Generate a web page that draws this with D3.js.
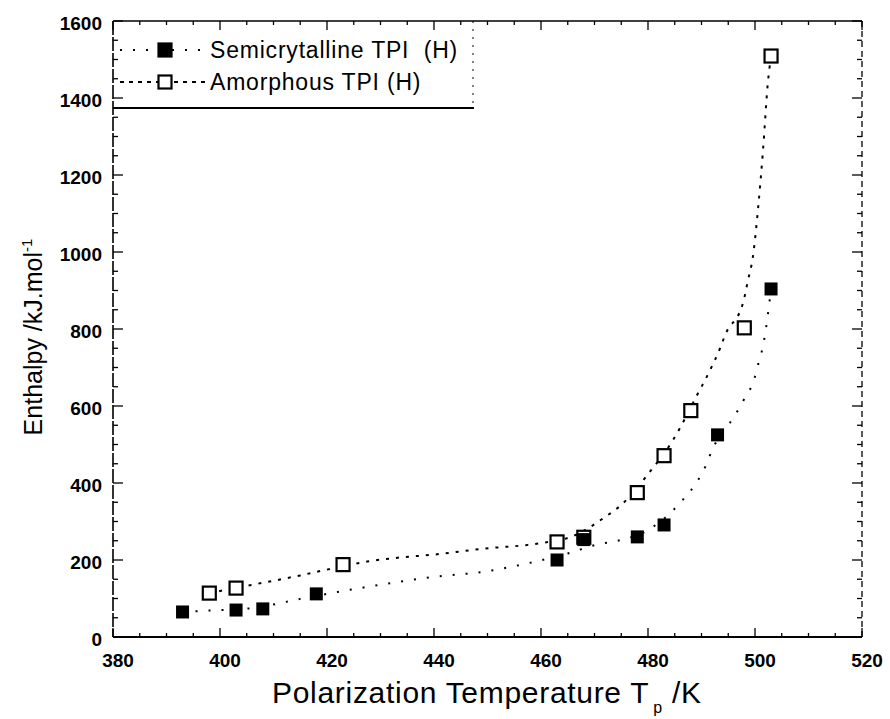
<!DOCTYPE html>
<html>
<head>
<meta charset="utf-8">
<script src="https://cdn.jsdelivr.net/npm/d3@7"></script>
<style>
  body { margin: 0; background: #fff; }
  text { font-family: "Liberation Sans", Arial, sans-serif; fill: #000; }
</style>
</head>
<body>
<div id="chart-area"></div>
<script>
// measured points
const tempSemi = [393, 403, 408, 418, 463, 468, 478, 483, 493, 503];
const enthSemi = [65, 70, 73, 112, 200, 253, 260, 291, 525, 904];
const tempAmor = [398, 403, 423, 463, 468, 478, 483, 488, 498, 503];
const enthAmor = [114, 127, 188, 247, 259, 375, 471, 588, 803, 1509];

// dotted fit curves
const fitSemiT = [393, 397, 400, 406, 415, 422, 440, 450, 455, 465, 471, 474, 480, 486.5, 489, 490.7, 492, 496.3, 498.1, 499.8, 500.7, 501.5, 502, 503];
const fitSemiH = [65, 68, 70, 75, 99, 117, 156, 171, 184, 217, 242, 249, 278, 356, 400, 442, 486, 577, 621, 667, 714, 756, 797, 904];
const fitAmorT = [398, 405, 410, 415, 421, 427.5, 434, 440, 449, 460, 466, 472, 475, 480, 484.7, 489.2, 491.6, 493.5, 494.4, 497.8, 498.7, 499.6, 500.6, 501.5, 502.4, 503];
const fitAmorH = [114, 133, 146, 160, 178, 196, 207, 214, 229, 244, 262, 312, 343, 423, 512, 629, 693, 751, 784, 870, 927, 987, 1117, 1265, 1439, 1509];

const xTicks = [380, 400, 420, 440, 460, 480, 500, 520];
const yTicks = [0, 200, 400, 600, 800, 1000, 1200, 1400, 1600];
const seriesNames = ['Semicrytalline TPI  (H)', 'Amorphous TPI (H)'];

const margin = { left: 113, top: 21, right: 28, bottom: 82 };
const width = 890 - margin.left - margin.right;
const height = 719 - margin.top - margin.bottom;

const svg = d3.select('#chart-area').append('svg')
  .attr('width', 890)
  .attr('height', 719);

const g = svg.append('g')
  .attr('transform', `translate(${margin.left},${margin.top})`);

const x = d3.scaleLinear().domain([380, 520]).range([0, width]);
const y = d3.scaleLinear().domain([0, 1600]).range([height, 0]);

const xMinor = d3.range(380, 521, 5);
const yMinor = d3.range(0, 1601, 50);

// frame
g.append('line').attr('x1', 0).attr('x2', width).attr('y1', height).attr('y2', height)
  .attr('stroke', '#000').attr('stroke-width', 2);
g.append('line').attr('x1', 0).attr('x2', 0).attr('y1', 0).attr('y2', height)
  .attr('stroke', '#000').attr('stroke-width', 1.6).attr('stroke-dasharray', '14,2');
g.append('line').attr('x1', 0).attr('x2', width).attr('y1', 0).attr('y2', 0)
  .attr('stroke', '#000').attr('stroke-width', 1.6);
g.append('line').attr('x1', width).attr('x2', width).attr('y1', 0).attr('y2', height)
  .attr('stroke', '#000').attr('stroke-width', 1.3).attr('stroke-dasharray', '6,4');

// ticks, all four sides pointing in
const tickLen = v => (v % 20 === 0 ? 9 : 4);
const ytickLen = v => (v % 200 === 0 ? 10 : 5);

g.selectAll('.xb').data(xMinor).enter().append('line')
  .attr('x1', d => x(d)).attr('x2', d => x(d))
  .attr('y1', height).attr('y2', d => height - tickLen(d))
  .attr('stroke', '#000').attr('stroke-width', 1.3);
g.selectAll('.xt').data(xMinor).enter().append('line')
  .attr('x1', d => x(d)).attr('x2', d => x(d))
  .attr('y1', 0).attr('y2', d => tickLen(d))
  .attr('stroke', '#000').attr('stroke-width', 1.3);
g.selectAll('.yl').data(yMinor).enter().append('line')
  .attr('y1', d => y(d)).attr('y2', d => y(d))
  .attr('x1', 0).attr('x2', d => ytickLen(d))
  .attr('stroke', '#000').attr('stroke-width', 1.3);
g.selectAll('.yr').data(yMinor).enter().append('line')
  .attr('y1', d => y(d)).attr('y2', d => y(d))
  .attr('x1', width).attr('x2', d => width - ytickLen(d))
  .attr('stroke', '#000').attr('stroke-width', 1.3);

// tick labels
g.selectAll('.xlab').data(xTicks).enter().append('text')
  .attr('x', d => x(d) + 5)
  .attr('y', height + 30)
  .attr('text-anchor', 'middle')
  .attr('font-size', '19px')
  .attr('font-weight', 'bold')
  .text(d => d);

g.selectAll('.ylab').data(yTicks).enter().append('text')
  .attr('x', -11)
  .attr('y', d => y(d) + 9)
  .attr('text-anchor', 'end')
  .attr('font-size', '19px')
  .attr('font-weight', 'bold')
  .text(d => d);

// axis titles
const xt = svg.append('text')
  .attr('x', 272)
  .attr('y', 703)
  .attr('font-size', '30px')
  .attr('letter-spacing', '0.7px');
xt.append('tspan').text('Polarization Temperature T');
xt.append('tspan').attr('dy', 10).attr('dx', 4).attr('font-size', '16px').text('p');
xt.append('tspan').attr('dy', -10).text(' /K');

const yt = svg.append('text')
  .attr('transform', 'translate(42,337) rotate(-90)')
  .attr('text-anchor', 'middle')
  .attr('font-size', '25px');
yt.append('tspan').text('Enthalpy /kJ.mol');
yt.append('tspan').attr('dy', -10).attr('font-size', '15px').text('-1');

// fit curves
const line = d3.line()
  .x(d => x(d[0]))
  .y(d => y(d[1]))
  .curve(d3.curveMonotoneX);

g.append('path')
  .datum(d3.zip(fitAmorT, fitAmorH))
  .attr('d', line)
  .attr('fill', 'none')
  .attr('stroke', '#000')
  .attr('stroke-width', 2)
  .attr('stroke-dasharray', '3,7');

g.append('path')
  .datum(d3.zip(fitSemiT, fitSemiH))
  .attr('d', line)
  .attr('fill', 'none')
  .attr('stroke', '#000')
  .attr('stroke-width', 2)
  .attr('stroke-dasharray', '2,11');

// markers
const sq = 13;
g.selectAll('.amor').data(d3.zip(tempAmor, enthAmor)).enter().append('rect')
  .attr('x', d => x(d[0]) - sq / 2)
  .attr('y', d => y(d[1]) - sq / 2)
  .attr('width', sq).attr('height', sq)
  .attr('fill', '#fff')
  .attr('stroke', '#000')
  .attr('stroke-width', 2.2);

g.selectAll('.semi').data(d3.zip(tempSemi, enthSemi)).enter().append('rect')
  .attr('x', d => x(d[0]) - sq / 2)
  .attr('y', d => y(d[1]) - sq / 2)
  .attr('width', sq).attr('height', sq)
  .attr('fill', '#000');

// legend
const leg = svg.append('g');
leg.append('line').attr('x1', 113).attr('x2', 474).attr('y1', 108).attr('y2', 108)
  .attr('stroke', '#000').attr('stroke-width', 2);
leg.append('line').attr('x1', 473).attr('x2', 473).attr('y1', 21).attr('y2', 108)
  .attr('stroke', '#000').attr('stroke-width', 1).attr('stroke-dasharray', '2,6');

const rows = [
  { name: seriesNames[0], y: 50, fill: '#000', dash: '2,11' },
  { name: seriesNames[1], y: 82, fill: '#fff', dash: '4,5' }
];
rows.forEach(r => {
  leg.append('line').attr('x1', 120).attr('x2', 205).attr('y1', r.y).attr('y2', r.y)
    .attr('stroke', '#000').attr('stroke-width', 2).attr('stroke-dasharray', r.dash);
  leg.append('rect')
    .attr('x', 165 - sq / 2).attr('y', r.y - sq / 2)
    .attr('width', sq).attr('height', sq)
    .attr('fill', r.fill)
    .attr('stroke', '#000').attr('stroke-width', 2.2);
  leg.append('text')
    .attr('x', 210).attr('y', r.y + 8)
    .attr('font-size', '23px')
    .attr('letter-spacing', '0.8px')
    .style('white-space', 'pre')
    .text(r.name);
});
</script>
</body>
</html>
